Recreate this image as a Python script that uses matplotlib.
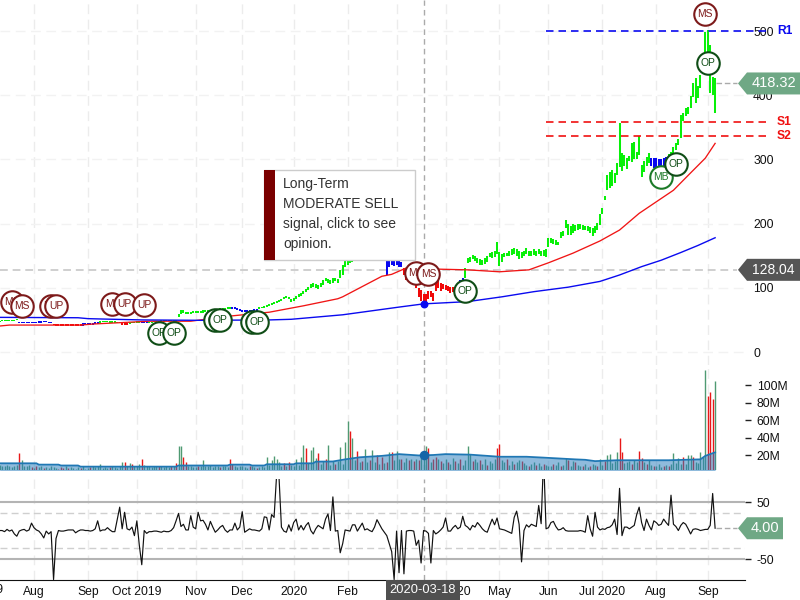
import numpy as np
import matplotlib
matplotlib.use('Agg')
import matplotlib.pyplot as plt
from matplotlib.patches import Polygon, Rectangle
from matplotlib.transforms import IdentityTransform

plt.rcParams['font.family'] = ['Liberation Sans', 'DejaVu Sans']

# daily bars, Jul 2019 - Sep 2020 (index = trading day)
bar_low = [47.5,47.8,48,48.2,48.5,48.6,48.8,49.5,44.5,44.5,
 44.5,45,45.5,45,44.8,45,45.5,45.6,46,46,
 45.3,45,42,41,40.5,40,40,40.5,40,40,
 40,40,40.5,41,41,41.5,42,42,42.5,43,
 43.5,45,46,46,46,45.8,45.5,45.5,45,45.5,
 42,41.5,42,44,45,45,45.5,45.5,45,45,
 44.5,44.5,45,46,46,46.5,47,47.5,48,48,47.8,47.5,47.5,
 55,60,61,
 60,60,60,60.5,61,61,61.5,61.5,62,62.5,63,63.5,64,64,64.5,65,66,66.5,67,67,67.5,66,64,63,
 63,63,63.5,64,64,64.5,
 67,68,69,70,72,74,75,76,78,80,82,84,82,78,
 80,83,86,88,90,93,96,99,102,100,
 98,102,104,110,108,106,108,110,108,115,120,133,
 135,138,140,147,148,148,150,150,152,155,150,150,148,147,146,146,
 120,133,135,134,136,133,132,
 120,112,115,108,105,100,85,80,72,
 78,82,85,80,95,100,95,98,96,95,92,94,92,88,
 100,102,
 115,
 138,140,145,142,138,135,136,137,140,
 148,146,148,153,134,140,148,149,150,151,
 152,150,145,147,150,152,150,150,151,149,
 152,150,150,148,163,170,168,167,166,178,
 180,193,183,182,185,188,190,192,190,190,
 188,185,180,186,190,198,215,237,252,255,
 258,263,275,288,282,290,285,297,296,300,
 300,307,272,280,290,295,290,287,288,285,
 288,290,292,295,300,305,315,322,333,360,
 367,370,380,397,388,395,411,440,450,455,
 403,400,372]
bar_high = [49,49.3,49.5,49.8,50,50.2,50.3,51,46.5,46.5,
 46.5,46.8,47,46.8,46.5,47,47.6,47.8,47.8,47.6,
 47,46.6,44,44,43.5,43,43,43.5,43,43,
 43,43.5,44,44,44.5,45,45,45.5,45.5,46,
 47,47.6,48,48.5,48.5,48,48,47.8,47.5,47.5,
 46,45.5,45,46.5,47,47.5,47.8,47.6,47,46.5,
 46.5,47,47.5,48,48.5,49,49.5,50,50.3,50.3,50,50,49.8,
 59,65,66,
 63,63,63,63.5,64,64,64.5,65,65,65.5,66,66.5,67,67.5,68,68.5,69,69.5,70,70,70,69,67,66,
 65.5,65.5,66,66,66.5,67,
 70,70,71,72.5,75,77,78,79.5,81,83,85,87,85,82,
 84,87,90,92,95,98,102,106,108,106,
 104,108,112,116,113,112,115,116,114,127,135,145,
 155,160,175,178,160,155,158,165,170,180,185,180,170,165,160,155,
 143,143,143,143,143,143,140,
 131,128,125,122,118,112,100,96,90,
 90,95,95,92,118,115,108,106,105,103,102,102,100,98,
 112,115,
 131,
 146,148,151,150,147,145,144,146,149,
 155,156,158,171,156,152,154,155,158,160,
 162,160,157,156,157,162,157,158,161,158,
 160,158,159,160,178,178,176,175,172,187,
 188,205,200,197,200,198,200,200,198,197,
 197,195,193,196,201,215,224,243,275,280,
 283,279,295,357,310,307,302,305,325,327,
 312,336,291,297,303,310,302,302,302,300,
 300,302,303,308,312,320,325,332,369,372,
 380,382,398,419,427,415,431,465,498,502,
 478,428,427]
bar_state = (['bull']*8 + ['flat']*14 + ['bear']*12 + ['flat']*7 + ['bull']*9 + ['bear']*3
 + ['bull']*5 + ['flat']*3 + ['bull']*34 + ['flat']*11 + ['bull']*52 + ['flat']*7
 + ['bear']*23 + ['flat']*2 + ['bull']*76 + ['flat']*7 + ['bull']*20)

ma_fast_idx = [0,4,33,38,61,78,94,110,124,138,140,147,156,160,166,180,191,204,216,224,234,245,253,261,268,275,282,288,292]
ma_fast = [40.5,42,42,43.6,48,48,56,62,72,83,86,100,118,121,131,129,128,125,128,139,154,173,190,216,234,252,279,302,325]
ma_slow_idx = [0,32,36,42,58,82,110,119,140,163,173,191,205,218,232,245,253,262,270,278,285,292]
ma_slow = [54,53.4,52,51.4,50,49.4,50,51,58,70,75,78.5,86,94,101,110,120,133,143,155,166,178]

volume = [9,8,7,9,8,6,7,9,22,14,
 8,7,9,6,5,7,6,8,5,6,
 5,7,6,5,4,6,5,7,5,6,
 5,4,6,5,7,4,5,6,7,6,
 8,10,5,6,5,6,7,6,5,7,
 12,12,8,11,10,8,7,10,15,9,
 7,8,6,7,8,7,8,6,7,6,
 7,8,11,30,30,18,12,8,7,6,
 6,7,8,14,8,7,9,6,8,7,
 6,7,8,6,16,10,7,6,7,8,
 6,5,7,8,6,5,6,7,6,18,
 9,14,19,16,12,8,11,7,12,9,
 8,16,9,18,31,28,11,26,29,17,
 22,10,13,16,31,9,13,10,13,29,
 10,35,59,48,39,14,25,12,13,27,
 12,14,26,12,20,10,18,11,12,24,
 24,14,25,15,16,12,17,14,15,13,
 16,14,18,17,30,28,12,16,18,15,
 13,11,15,12,10,17,13,11,15,9,
 14,30,21,13,15,12,14,10,16,9,
 13,11,15,28,33,14,12,16,9,13,
 10,12,14,13,11,9,8,10,12,9,
 11,8,10,9,7,8,10,9,12,8,
 9,17,14,8,13,12,9,7,8,10,
 6,8,10,9,7,15,9,13,20,21,
 11,13,23,39,24,11,12,13,10,14,
 12,25,17,12,10,14,9,8,7,10,
 6,8,9,7,10,22,11,17,10,18,
 10,20,20,18,12,11,23,18,
 117,88,92,84,105]
down_days = [8,13,15,18,24,25,26,28,33,37,45,51,54,58,65,70,72,75,76,81,90,94,95,102,105,116,118,125,130,133,137,143,146,148,151,154,156,158,160,164,167,169,171,175,177,178,180,183,186,188,193,196,199,203,204,207,210,213,216,219,222,226,229,232,235,238,241,244,247,253,254,258,261,262,264,267,271,273,279,283,289,290,291]
vol_avg_idx = [0,15,16,24,25,32,33,72,73,93,94,102,103,108,109,120,121,128,129,136,141,147,156,163,171,177,182,192,204,215,222,235,239,243,252,273,286,288,292]
vol_avg = [10.5,10.5,9,9,8,8,6.7,6.7,8,8,9,9,8,8,9.4,9.4,10.5,10.5,12.4,12.6,15,17.4,19,21,19.5,20,21,20.4,18,18,17,15,14.5,13,14,14,15,19,23]

cci = [0,0,-2,2,-1,1,-6,-10,-1,1,2,-1,1,13,5,1,-1,-6,-13,-1,
 -6,-2,-86,-14,0,-1,-1,0,1,1,1,-4,-1,1,1,0,0,-1,0,3,
 17,-1,1,1,5,1,-2,-2,20,41,3,32,3,1,6,-9,17,-26,-60,0,
 -5,-2,-2,-1,-1,-2,-3,-1,-2,-2,0,5,17,30,7,11,1,1,26,6,
 3,32,17,18,11,1,16,6,-3,1,6,9,1,-3,1,1,13,1,6,33,
 -3,0,3,1,1,0,-1,3,24,23,1,28,23,95,95,6,-1,-3,10,-1,
 14,20,1,9,1,9,14,0,-6,3,9,6,3,20,29,0,59,-1,0,-39,
 -23,1,0,-1,10,10,-1,6,13,1,3,0,-2,6,19,11,3,-3,-9,-23,
 -37,-86,-1,-74,0,-76,-1,0,0,-1,-26,-17,-57,0,-1,-5,-57,0,-6,-3,
 1,6,22,-1,-1,5,9,3,6,25,9,6,1,9,6,14,9,3,-1,-3,
 9,20,10,22,3,2,1,-1,-3,-5,23,34,11,-55,0,10,6,11,9,7,
 44,12,130,3,5,14,16,7,1,2,5,0,-1,-1,-1,-1,-1,0,-1,-3,
 26,3,-10,32,6,1,3,2,5,6,10,20,-7,74,-9,6,6,3,6,9,
 28,41,14,0,20,9,1,17,14,9,11,20,14,9,62,11,7,0,9,14,
 11,3,-6,2,3,2,0,1,2,2,9,65,4]

month_idx = [14,36,56,80,99,120,142,162,182,204,224,246,268,289]
month_lab = ['Aug','Sep','Oct 2019','Nov','Dec','2020','Feb','Mar','Apr 2020','May','Jun','Jul 2020','Aug','Sep']

sig_idx = [5,9,21,23,46,51,59,65,71,88,90,103,105,170,175,190,270,276,288,289]
sig_price = [78.4,72,72,72,75,75,73.5,29,29,49.5,49.5,46,47.5,123,121,95,273,293,526,450]
sig_lab = ['MS','MS','MS','UP','MS','UP','UP','OP','OP','OP','OP','OP','OP','MS','MS','OP','MB','OP','MS','OP']

r1, s1, s2 = 500, 358, 336
last_price = 418.32
cross_price = 128.04
cross_idx = 173
last_cci = 4.00

state_col = {'bull': '#08f008', 'flat': '#0808f0', 'bear': '#f00808'}
sig_col = {'MS': '#7d1a1a', 'UP': '#7d1a1a', 'OP': '#0f4d16', 'MB': '#1c7a28'}
W, H = 800, 600
XLIM = (0.14, 304.2)

fig = plt.figure(figsize=(8, 6), dpi=100, facecolor='white')
def panel(top, bottom):
    ax = fig.add_axes([0, 1 - bottom / H, 745 / W, (bottom - top) / H])
    ax.set_xlim(*XLIM)
    for s in ax.spines.values():
        s.set_visible(False)
    ax.yaxis.tick_right()
    ax.set_xticks(month_idx)
    ax.tick_params(axis='x', length=0, labelbottom=False)
    ax.grid(True, axis='x', color='#ececec', lw=1, ls=(0, (7, 4)))
    ax.set_axisbelow(True)
    ax.axvline(cross_idx, color='#aaaaaa', lw=1, ls=(0, (4, 3)), zorder=2.5)
    return ax

ax = panel(0, 365)
ax_v = panel(365, 470)
ax_c = panel(479, 580)
x = np.arange(len(bar_low))

# price panel
ax.set_ylim(-20.2, 548.3)
ax.set_yticks([0, 100, 200, 300, 400, 500])
ax.grid(True, axis='y', color='#f2f2f2', lw=1, ls=(0, (7, 4)))
ax.tick_params(axis='y', length=0, pad=5.8, labelsize=8.7, labelcolor='#111111')
ax.vlines(x, bar_low, bar_high, colors=[state_col[s] for s in bar_state], lw=1.45, zorder=3)
ax.plot(ma_fast_idx, ma_fast, color='#f01515', lw=0.95, zorder=3.5)
ax.plot(ma_slow_idx, ma_slow, color='#0a0af0', lw=1, zorder=3.5)
ax.scatter([cross_idx], [np.interp(cross_idx, ma_slow_idx, ma_slow)], s=22, color='#0a0af0', zorder=4)
ax.hlines(cross_price, XLIM[0], 301, color='#cfcfcf', lw=1.4, ls=(0, (4, 2.5)), zorder=2)
ax.hlines(last_price, 292.5, 301, color='#aaaaaa', lw=1, ls=(0, (4, 2)), zorder=2)
for lev, col, lab in [(r1, '#0a0af0', 'R1'), (s1, '#f01010', 'S1'), (s2, '#f01010', 'S2')]:
    ax.plot([223, 314], [lev, lev], color=col, lw=1.2, ls=(0, (4.5, 3)), clip_on=False, zorder=3)
    ax.text(320.3, lev, lab, color=col, fontsize=8.7, fontweight='bold', va='center', ha='center', clip_on=False)
for k, (i, p, lab) in enumerate(zip(sig_idx, sig_price, sig_lab)):
    col = sig_col[lab]
    ax.scatter([i], [p], s=262, facecolor='white', edgecolor=col, lw=1.5, zorder=5 + k, clip_on=False)
    ax.text(i, p, lab, color=col, fontsize=7.4, ha='center', va='center', zorder=5 + k)

# volume panel
ax_v.set_ylim(2.86, 122.9)
ax_v.set_yticks([20, 40, 60, 80, 100])
ax_v.set_yticklabels(['20M', '40M', '60M', '80M', '100M'])
ax_v.tick_params(axis='y', length=4, width=1, pad=4.5, labelsize=8.7, color='#222222', labelcolor='#111111')
vol_cols = ['#e81818' if i in down_days else '#4f9a72' for i in x]
ax_v.vlines(x, 0, volume, colors=vol_cols, lw=1.0, zorder=3)
ax_v.fill_between(vol_avg_idx, 0, vol_avg, color='#2a7ebd', alpha=0.52, lw=0, zorder=4)
ax_v.plot(vol_avg_idx, vol_avg, color='#1f77b4', lw=1.3, zorder=4)
ax_v.scatter([cross_idx], [np.interp(cross_idx, vol_avg_idx, vol_avg)], s=34, color='#1565a8', zorder=5)

# oscillator panel
ax_c.set_ylim(-86.8, 90.4)
ax_c.set_yticks([-50, 50])
ax_c.set_yticklabels(['-50', '50'])
ax_c.tick_params(axis='y', length=4, width=1, pad=4.5, labelsize=8.7, color='#222222', labelcolor='#111111')
for lev in (-50, 50):
    ax_c.axhline(lev, color='#b4b4b4', lw=1.5, zorder=1)
for lev in (-30, 30):
    ax_c.axhline(lev, color='#cfcfcf', lw=1, ls=(0, (5, 3)), zorder=1)
ax_c.plot(x, cci, color='#111111', lw=0.85, zorder=3)
ax_c.hlines(last_cci, 292.5, 301, color='#aaaaaa', lw=1, ls=(0, (4, 2)), zorder=2)
ax_c.spines['bottom'].set_visible(True)
ax_c.spines['bottom'].set_color('#111111')
ax_c.tick_params(axis='x', labelbottom=True, pad=4, labelsize=8.7, labelcolor='#111111')
ax_c.set_xticklabels(month_lab)
ax_c.text(-8, -0.1, 'Jul 2019', transform=ax_c.get_xaxis_transform(), fontsize=8.7, color='#111111',
          ha='center', va='center', clip_on=False)

def px(xp, yp):
    return (xp, H - yp)

def pill(axis, value, text, col, right, size):
    ym = H - axis.transData.transform((0, value))[1]
    pts = [px(738, ym), px(747, ym - 11), px(right, ym - 11), px(right, ym + 11), px(747, ym + 11)]
    fig.add_artist(Polygon(pts, closed=True, facecolor=col, edgecolor='none', transform=IdentityTransform(), zorder=30))
    fig.text((747 + right) / 2 / W, 1 - ym / H, text, color='white', fontsize=size, ha='center', va='center', zorder=31)

pill(ax, last_price, '418.32', '#6fa885', 800, 10.5)
pill(ax, cross_price, '128.04', '#555555', 800, 10)
pill(ax_c, last_cci, '4.00', '#6fa885', 783, 10.5)

# crosshair date
fig.add_artist(Rectangle((386 / W, 0), 74 / W, 20 / H, transform=fig.transFigure, facecolor='#505050', edgecolor='none', zorder=30))
fig.text(423 / W, 10 / H, '2020-03-18', color='white', fontsize=9.3, ha='center', va='center', zorder=31)

# opinion box
fig.add_artist(Rectangle((264 / W, 1 - 260 / H), 151 / W, 90 / H, transform=fig.transFigure, facecolor='white', edgecolor='#cccccc', lw=1, zorder=40))
fig.add_artist(Rectangle((264 / W, 1 - 260 / H), 11 / W, 90 / H, transform=fig.transFigure, facecolor='#7a0000', edgecolor='none', zorder=41))
for yp, line in zip([184, 204, 224, 244], ['Long-Term', 'MODERATE SELL', 'signal, click to see', 'opinion.']):
    fig.text(283 / W, 1 - yp / H, line, color='#333333', fontsize=10, ha='left', va='center', zorder=42)

fig.savefig('out.png', dpi=100)
